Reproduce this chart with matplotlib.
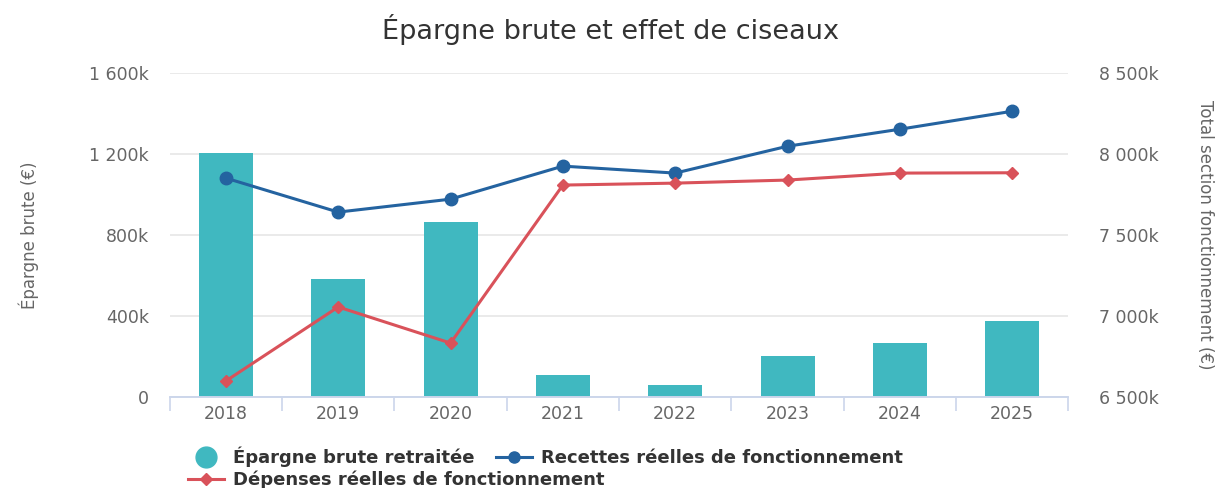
import numpy as np
import matplotlib
matplotlib.use("Agg")
import matplotlib.pyplot as plt
from matplotlib.ticker import FuncFormatter, FixedLocator
from matplotlib.lines import Line2D

# data (euros)
years = ["2018", "2019", "2020", "2021", "2022", "2023", "2024", "2025"]
epargne = [1205000, 585000, 865000, 108000, 58000, 202000, 267000, 375000]
recettes = [7852000, 7642000, 7722000, 7926000, 7883000, 8049000, 8154000, 8265000]
depenses = [6599000, 7056000, 6833000, 7809000, 7821000, 7840000, 7883000, 7885000]

teal = "#40b8c0"
blue = "#2463a0"
red = "#d9525a"
grey_txt = "#666666"


def k_fmt(v, pos):
    s = f"{int(round(v / 1000)):,}".replace(",", " ")
    return s + "k" if v != 0 else "0"


fig = plt.figure(figsize=(12.21, 4.88), dpi=100)
ax = fig.add_axes([0.139, 0.1865, 0.736, 0.6635])
ax2 = ax.twinx()

x = np.arange(len(years))
ax.bar(x, epargne, width=0.48, color=teal, zorder=2)
ax2.plot(x, recettes, color=blue, lw=2.2, marker="o", ms=9, zorder=3)
ax2.plot(x, depenses, color=red, lw=2.2, marker="D", ms=6, zorder=3)

ax.set_xlim(-0.5, len(years) - 0.5)
ax.set_ylim(0, 1600000)
ax2.set_ylim(6500000, 8500000)
ax.set_yticks([0, 400000, 800000, 1200000, 1600000])
ax2.set_yticks([6500000, 7000000, 7500000, 8000000, 8500000])
ax.yaxis.set_major_formatter(FuncFormatter(k_fmt))
ax2.yaxis.set_major_formatter(FuncFormatter(k_fmt))

ax.grid(axis="y", color="#e6e6e6", lw=1.2, zorder=0)
ax.set_axisbelow(True)
for a in (ax, ax2):
    for side in ("top", "left", "right"):
        a.spines[side].set_visible(False)
    a.spines["bottom"].set_color("#ccd6eb")
    a.spines["bottom"].set_linewidth(1.2)
    a.tick_params(axis="y", length=0, colors=grey_txt, labelsize=12.5)
ax.tick_params(axis="y", pad=15)
ax2.tick_params(axis="y", pad=22)

ax.set_xticks(x)
ax.set_xticklabels(years)
ax.xaxis.set_minor_locator(FixedLocator(np.arange(-0.5, len(years), 1)))
ax.tick_params(axis="x", which="major", length=0, colors=grey_txt, labelsize=12.5, pad=6)
ax.tick_params(axis="x", which="minor", length=10, color="#ccd6eb", width=1.2)

lab_font = dict(family=["DejaVu Sans"], fontsize=12, color=grey_txt)
ax.set_ylabel("Épargne brute (€)", labelpad=36, **lab_font)
ax2.set_ylabel("Total section fonctionnement (€)", rotation=270, labelpad=40, **lab_font)

fig.text(0.5, 0.94, "Épargne brute et effet de ciseaux", ha="center", va="center",
         fontsize=19.5, color="#333333")

h1 = Line2D([], [], ls="none", marker="o", ms=15, color=teal)
h2 = Line2D([], [], color=blue, lw=2.2, marker="o", ms=8)
h3 = Line2D([], [], color=red, lw=2.2, marker="D", ms=6)
lkw = dict(frameon=False, prop={"weight": "bold", "size": 13}, labelcolor="#333333",
           handlelength=2.0, handletextpad=0.5, borderaxespad=0)
fig.legend([h1, h2], ["Épargne brute retraitée", "Recettes réelles de fonctionnement"],
           ncol=2, loc="center left", bbox_to_anchor=(0.148, 0.064),
           columnspacing=1.2, **lkw)
fig.legend([h3], ["Dépenses réelles de fonctionnement"], loc="center left",
           bbox_to_anchor=(0.148, 0.017), **lkw)

fig.savefig("out.png", dpi=100)
